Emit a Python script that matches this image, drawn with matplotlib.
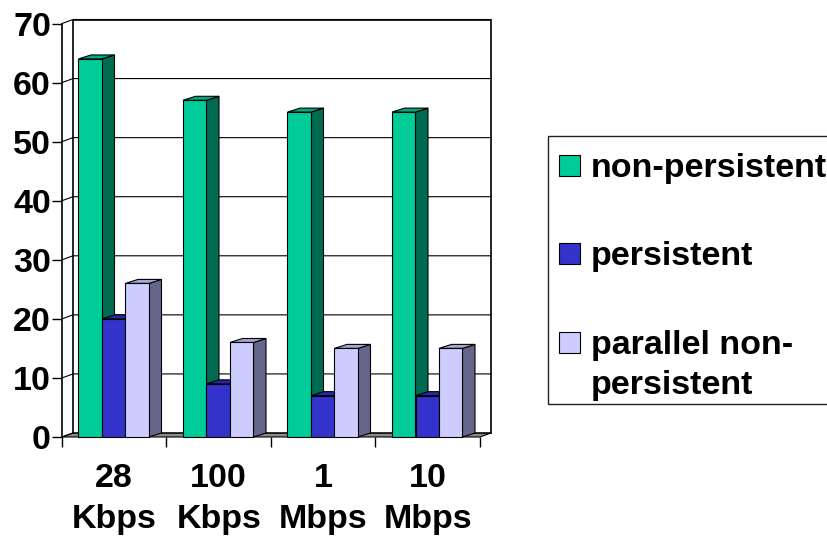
import matplotlib
matplotlib.use("Agg")
from matplotlib import pyplot as plt
from matplotlib.patches import Polygon, Rectangle

plt.rcParams['font.family'] = ['Liberation Sans', 'DejaVu Sans']
plt.rcParams['font.weight'] = 'bold'

categories = ["28\nKbps", "100\nKbps", "1\nMbps", "10\nMbps"]
series_names = ["non-persistent", "persistent", "parallel non-\npersistent"]
non_persistent = [64, 57, 55, 55]
persistent = [20, 9, 7, 7]
parallel = [26, 16, 15, 15]
y_ticks = [0, 10, 20, 30, 40, 50, 60, 70]

front_cols = ["#00CC99", "#3333CC", "#CCCCFF"]
side_cols = ["#006B50", "#1B1B6B", "#66668A"]
top_cols = ["#00A67C", "#2828A6", "#A6A6D0"]

fig = plt.figure(figsize=(8.28, 5.38), dpi=100)
ax = fig.add_axes([62/828, 1-437/538, (480-62)/828, (437-23.5)/538])
ax.set_xlim(0, 4)
ax.set_ylim(0, 70)
for s in ax.spines.values():
    s.set_visible(False)
ax.patch.set_visible(False)

# depth of the fake 3d, in data units
dx = 11/104.5
dy = 4/5.91
bar_dx = 12.5/104.5
bar_w = 23.5/104.5
start = 16.5/104.5

# back wall, floor, side wall
ax.add_patch(Polygon([(0, 0), (dx, dy), (4+dx, dy), (4, 0)], fc="#8A8A8A", ec="black", lw=0.8, clip_on=False, zorder=1))
ax.plot([dx, dx, 4+dx, 4+dx], [dy, 70+dy, 70+dy, dy], color="black", lw=1.2, clip_on=False, zorder=1)
ax.plot([0, 0], [0, 70], color="black", lw=1.2, clip_on=False, zorder=1)
for v in y_ticks:
    ax.plot([0, dx, 4+dx], [v, v+dy, v+dy], color="black", lw=0.8, clip_on=False, zorder=1)

all_vals = [non_persistent, persistent, parallel]
z = 3
for i in range(len(categories)):
    for j in range(3):
        x0 = i + start + j*bar_w
        x1 = x0 + bar_w
        v = all_vals[j][i]
        # side then top then front
        ax.add_patch(Polygon([(x1, 0), (x1+bar_dx, dy), (x1+bar_dx, v+dy), (x1, v)], fc=side_cols[j], ec="black", lw=0.8, clip_on=False, zorder=z))
        ax.add_patch(Polygon([(x0, v), (x0+bar_dx, v+dy), (x1+bar_dx, v+dy), (x1, v)], fc=top_cols[j], ec="black", lw=0.8, clip_on=False, zorder=z))
        ax.bar(x0, v, bar_w, align='edge', color=front_cols[j], edgecolor="black", linewidth=0.8, clip_on=False, zorder=z+1)
        z += 2

ax.set_yticks(y_ticks)
ax.set_yticklabels([str(v) for v in y_ticks], fontsize=24.5, fontweight='bold')
ax.tick_params(axis='y', length=7, width=1, pad=1)
ax.set_xticks([0, 1, 2, 3, 4], minor=True)
ax.set_xticks([0.5 + i for i in range(len(categories))])
ax.set_xticklabels(categories, fontsize=24.5, fontweight='bold', linespacing=1.4)
ax.tick_params(axis='x', which='major', length=0, pad=19)
ax.tick_params(axis='x', which='minor', length=7, width=1)

# legend box drawn by hand, runs off the right edge
fig.add_artist(Rectangle((548/828, 1-404/538), 300/828, 268/538, transform=fig.transFigure, fc="white", ec="#222222", lw=1))
label_y = [166, 254, 343]
for name, col, ly in zip(series_names, front_cols, label_y):
    fig.add_artist(Rectangle((559/828, 1-(ly+10)/538), 21/828, 21/538, transform=fig.transFigure, fc=col, ec="black", lw=0.8))
    fig.text(591/828, 1-(ly-13)/538, name, fontsize=24.5, fontweight='bold', va='top', ha='left', linespacing=1.36)

fig.savefig("out.png", dpi=100)
